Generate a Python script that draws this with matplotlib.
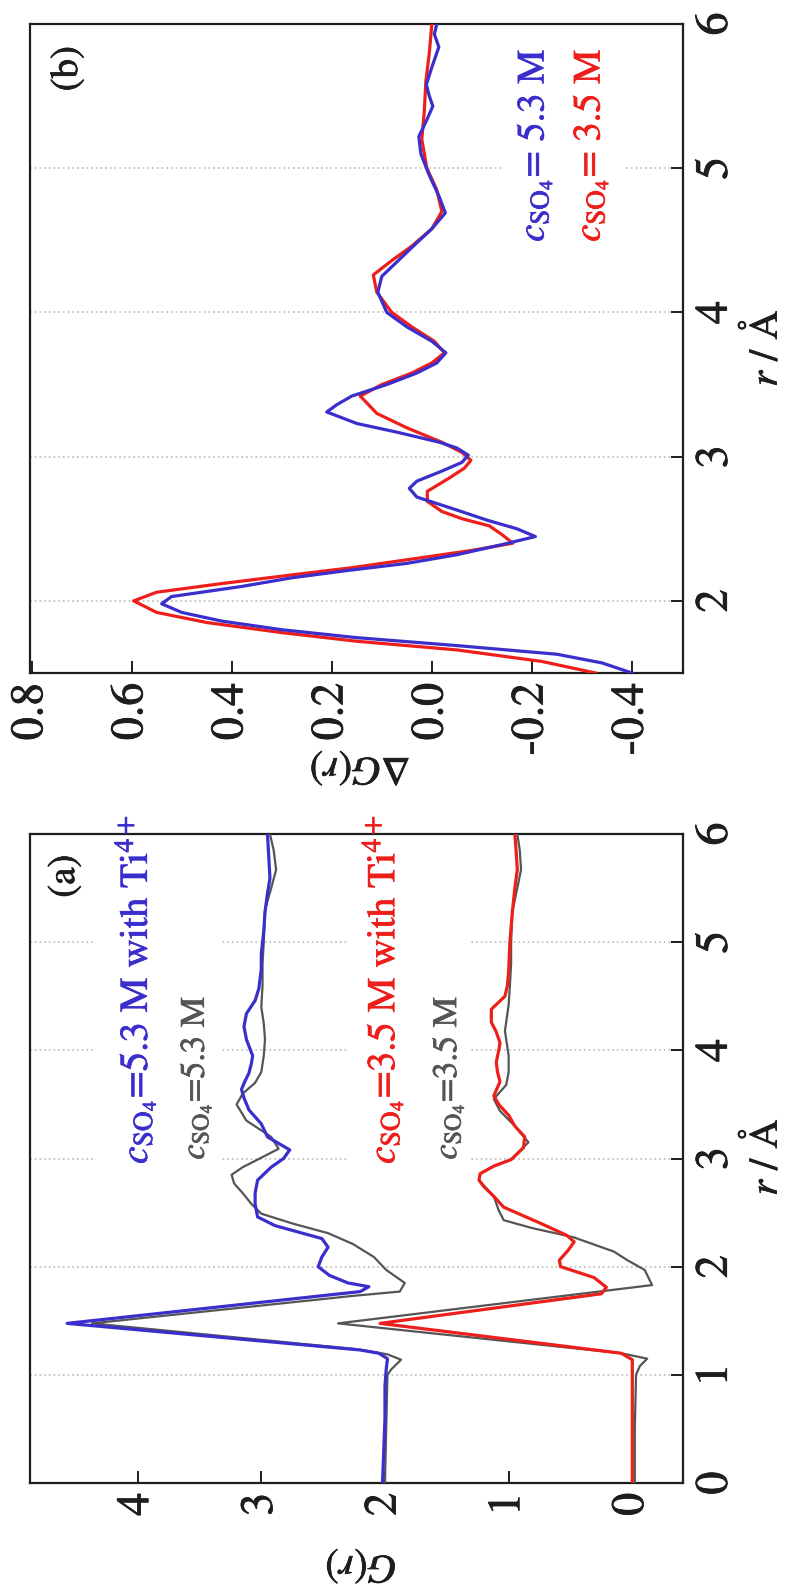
import matplotlib
matplotlib.use("Agg")
import matplotlib.pyplot as plt
import matplotlib.patheffects as pe
from matplotlib.patches import Rectangle

plt.rcParams["font.family"] = ["STIXGeneral", "DejaVu Serif"]
plt.rcParams["mathtext.fontset"] = "stix"
plt.rcParams["axes.unicode_minus"] = False

# ---- panel (a): G(r), curves with Ti offset by +2 ----
r_ti53 = [0.0, 0.3, 0.6, 0.9, 1.05, 1.15, 1.20, 1.23, 1.476, 1.77, 1.815, 1.85, 1.92, 2.0,
          2.09, 2.18, 2.26, 2.32, 2.38, 2.46, 2.58, 2.68, 2.80, 2.92, 3.0, 3.08, 3.2, 3.32,
          3.45, 3.56, 3.64, 3.72, 3.79, 3.88, 3.95, 4.1, 4.22, 4.34, 4.46, 4.57, 4.75, 4.89,
          5.1, 5.28, 5.45, 5.59, 5.8, 6.0]
g_ti53 = [2.02, 2.01, 2.0, 2.0, 1.99, 1.98, 2.05, 2.2, 4.57, 2.2, 2.13, 2.30, 2.45, 2.54,
          2.51, 2.46, 2.51, 2.7, 2.89, 3.03, 3.05, 3.05, 3.03, 2.92, 2.82, 2.77, 2.95, 3.0,
          3.1, 3.14, 3.16, 3.13, 3.10, 3.08, 3.07, 3.12, 3.14, 3.12, 3.05, 3.02, 3.0, 3.0,
          2.98, 2.97, 2.95, 2.93, 2.94, 2.95]

r_53 = [0.0, 0.5, 1.0, 1.05, 1.14, 1.19, 1.24, 1.476, 1.73, 1.77, 1.85, 1.97, 2.09, 2.21,
        2.31, 2.40, 2.49, 2.58, 2.68, 2.77, 2.85, 2.92, 2.99, 3.09, 3.2, 3.35, 3.5, 3.6,
        3.7, 3.8, 3.95, 4.1, 4.25, 4.4, 4.6, 4.8, 5.0, 5.3, 5.5, 5.67, 5.85, 6.0]
g_53 = [2.0, 1.99, 1.98, 1.95, 1.87, 1.98, 2.25, 4.37, 2.26, 1.88, 1.84, 1.99, 2.09, 2.26,
        2.46, 2.75, 3.0, 3.08, 3.15, 3.22, 3.24, 3.15, 3.03, 2.86, 2.92, 3.12, 3.2, 3.15,
        3.05, 3.0, 2.98, 2.97, 2.98, 3.0, 2.99, 2.99, 2.98, 2.97, 2.92, 2.88, 2.9, 2.93]

r_ti35 = [0.0, 0.5, 1.0, 1.14, 1.20, 1.476, 1.75, 1.81, 1.90, 2.0, 2.06, 2.15, 2.23, 2.29,
          2.40, 2.55, 2.65, 2.74, 2.80, 2.86, 2.93, 2.99, 3.1, 3.2, 3.30, 3.40, 3.5, 3.58,
          3.71, 3.8, 3.89, 4.0, 4.07, 4.17, 4.26, 4.38, 4.5, 4.6, 4.73, 5.0, 5.28, 5.5,
          5.67, 5.85, 6.0]
g_ti35 = [0.0, 0.0, 0.0, 0.0, 0.09, 2.04, 0.25, 0.21, 0.31, 0.58, 0.59, 0.52, 0.47, 0.53,
          0.74, 1.04, 1.12, 1.20, 1.24, 1.23, 1.12, 0.98, 0.88, 0.87, 0.95, 1.0, 1.08, 1.12,
          1.07, 1.09, 1.10, 1.08, 1.07, 1.1, 1.14, 1.14, 1.03, 1.01, 1.0, 0.99, 0.97, 0.95,
          0.93, 0.94, 0.95]

r_35 = [0.0, 0.5, 1.0, 1.08, 1.15, 1.20, 1.476, 1.83, 1.97, 2.06, 2.14, 2.27, 2.36, 2.43,
        2.52, 2.65, 2.80, 2.86, 2.93, 2.99, 3.15, 3.3, 3.44, 3.55, 3.68, 3.8, 3.95, 4.18,
        4.42, 4.6, 4.8, 5.0, 5.28, 5.5, 5.67, 5.85, 6.0]
g_35 = [-0.02, -0.02, -0.03, -0.06, -0.12, 0.09, 2.38, -0.16, -0.10, 0.04, 0.15, 0.47,
        0.82, 1.04, 1.08, 1.12, 1.24, 1.23, 1.12, 0.98, 0.84, 0.95, 1.07, 1.12, 1.02, 1.0,
        1.0, 1.03, 1.0, 0.99, 0.98, 0.98, 0.97, 0.93, 0.90, 0.91, 0.93]

# ---- panel (b): difference curves dG(r) ----
r_d53 = [1.50, 1.57, 1.63, 1.69, 1.745, 1.80, 1.86, 1.92, 1.98, 2.03, 2.10, 2.16, 2.21,
         2.26, 2.32, 2.39, 2.446, 2.50, 2.56, 2.63, 2.72, 2.78, 2.83, 2.90, 2.96, 3.01,
         3.06, 3.10, 3.17, 3.23, 3.31, 3.36, 3.42, 3.50, 3.58, 3.65, 3.72, 3.80, 3.90,
         4.0, 4.14, 4.25, 4.35, 4.46, 4.58, 4.69, 4.80, 4.95, 5.10, 5.22, 5.32, 5.43,
         5.50, 5.58, 5.70, 5.84, 5.93, 6.0]
d_d53 = [-0.40, -0.34, -0.25, -0.05, 0.15, 0.30, 0.42, 0.50, 0.54, 0.52, 0.38, 0.28, 0.17,
         0.05, -0.05, -0.14, -0.207, -0.17, -0.11, -0.05, 0.03, 0.045, 0.03, -0.02, -0.06,
         -0.073, -0.05, -0.015, 0.07, 0.15, 0.21, 0.19, 0.16, 0.09, 0.03, -0.01, -0.028,
         0.0, 0.05, 0.09, 0.108, 0.10, 0.07, 0.037, 0.0, -0.027, -0.015, 0.005, 0.022,
         0.026, 0.012, -0.002, 0.005, 0.011, 0.0, -0.014, -0.005, -0.01]

r_d35 = [1.50, 1.58, 1.66, 1.72, 1.78, 1.85, 1.92, 2.0, 2.06, 2.12, 2.18, 2.23, 2.29, 2.35,
         2.40, 2.46, 2.52, 2.57, 2.62, 2.69, 2.76, 2.85, 2.92, 2.975, 3.03, 3.10, 3.20,
         3.30, 3.42, 3.50, 3.58, 3.65, 3.72, 3.80, 3.90, 4.0, 4.14, 4.26, 4.36, 4.46,
         4.58, 4.70, 4.85, 5.0, 5.2, 5.4, 5.6, 5.8, 6.0]
d_d35 = [-0.327, -0.22, -0.05, 0.15, 0.30, 0.45, 0.55, 0.596, 0.55, 0.42, 0.28, 0.16,
         0.04, -0.08, -0.162, -0.14, -0.115, -0.06, -0.02, 0.009, 0.009, -0.034, -0.065,
         -0.078, -0.06, -0.02, 0.05, 0.11, 0.143, 0.10, 0.04, 0.0, -0.025, -0.005, 0.04,
         0.08, 0.11, 0.117, 0.08, 0.04, 0.0, -0.02, -0.01, 0.01, 0.02, 0.015, 0.012,
         0.005, 0.0]

r_ticks_a = [0, 1, 2, 3, 4, 5, 6]
r_ticks_b = [2, 3, 4, 5, 6]
g_ticks = [0, 1, 2, 3, 4]
dg_ticks = [0.8, 0.6, 0.4, 0.2, 0.0, -0.2, -0.4]

BLUE = "#3a2fcc"
RED = "#ee1f1b"
GRAY = "#555555"
INK = "#1e1e1e"
TICK_FS = 33


def heavy(color, w=0.7):
    return [pe.withStroke(linewidth=w, foreground=color)]


fig = plt.figure(figsize=(7.9, 15.88), dpi=100)
ax_a = fig.add_axes([0.038, 0.0661, 0.8266, 0.4087])
ax_b = fig.add_axes([0.038, 0.5762, 0.8266, 0.4087])


def frame(ax, rticks, xticks, xlabels):
    ax.yaxis.tick_right()
    ax.set_yticks(rticks, [str(t) for t in rticks], rotation=90, va="center")
    ax.set_xticks(xticks, xlabels, rotation=90, ha="center", va="top")
    ax.tick_params(direction="in", length=8.6, width=1.4, colors=INK,
                   labelsize=TICK_FS, top=False, left=False)
    ax.tick_params(axis="x", pad=7)
    ax.tick_params(axis="y", pad=9)
    for lab in ax.get_xticklabels() + ax.get_yticklabels():
        lab.set_path_effects(heavy(INK, 0.6))
    for sp in ax.spines.values():
        sp.set_linewidth(1.6)
        sp.set_color(INK)


def grid(ax, levels):
    for lv in levels:
        ax.axhline(lv, color="#c4c4c4", lw=1.3, ls=(0, (1, 1.6)), zorder=1)


def label(ax, x, y, s, color, fs, **kw):
    ax.text(x, y, s, color=color, fontsize=fs, rotation=90, zorder=5,
            path_effects=heavy(color, 0.5), **kw)


# panel (a)
ax_a.set_xlim(4.87, -0.41)
ax_a.set_ylim(0, 6)
frame(ax_a, r_ticks_a, g_ticks, [str(t) for t in g_ticks])
grid(ax_a, [1, 2, 3, 4, 5])
for g0, g1 in [(4.34, 3.33), (2.31, 1.32)]:
    ax_a.add_patch(Rectangle((g1, 2.88), g0 - g1, 3.07, facecolor="white",
                             edgecolor="none", zorder=2))
ax_a.plot(g_53, r_53, color=GRAY, lw=1.6, zorder=3)
ax_a.plot(g_35, r_35, color=GRAY, lw=1.6, zorder=3)
ax_a.plot(g_ti53, r_ti53, color=BLUE, lw=2.3, zorder=4)
ax_a.plot(g_ti35, r_ti35, color=RED, lw=2.3, zorder=4)

label(ax_a, 4.02, 2.95, r"$c_{\mathrm{SO_4}}$=5.3 M with Ti$^{4+}$", BLUE, 28.3,
      ha="center", va="bottom")
label(ax_a, 3.53, 2.99, r"$c_{\mathrm{SO_4}}$=5.3 M", GRAY, 24.7,
      ha="center", va="bottom")
label(ax_a, 2.02, 2.95, r"$c_{\mathrm{SO_4}}$=3.5 M with Ti$^{4+}$", RED, 28.3,
      ha="center", va="bottom")
label(ax_a, 1.49, 2.99, r"$c_{\mathrm{SO_4}}$=3.5 M", GRAY, 24.7,
      ha="center", va="bottom")
label(ax_a, 4.59, 5.61, "(a)", INK, 28, ha="center", va="center")

# panel (b)
ax_b.set_xlim(0.803, -0.502)
ax_b.set_ylim(1.5, 6)
frame(ax_b, r_ticks_b, dg_ticks, [f"{t:.1f}" for t in dg_ticks])
grid(ax_b, [2, 3, 4, 5])
ax_b.add_patch(Rectangle((-0.387, 4.4), 0.242, 1.5, facecolor="white",
                         edgecolor="none", zorder=2))
ax_b.plot(d_d35, r_d35, color=RED, lw=2.3, zorder=3)
ax_b.plot(d_d53, r_d53, color=BLUE, lw=2.3, zorder=4)
label(ax_b, -0.204, 4.49, r"$c_{\mathrm{SO_4}}$= 5.3 M", BLUE, 27.7,
      ha="center", va="bottom")
label(ax_b, -0.316, 4.49, r"$c_{\mathrm{SO_4}}$= 3.5 M", RED, 27.7,
      ha="center", va="bottom")
label(ax_b, 0.728, 5.69, "(b)", INK, 28, ha="center", va="center")

# axis titles
W, H = 790, 1588
fig.text(361 / W, 1 - 1566 / H, r"$G(r)$", fontsize=29, rotation=180,
         ha="center", va="center", color=INK, path_effects=heavy(INK, 0.5))
fig.text(360 / W, 1 - 768 / H, r"$\Delta G(r)$", fontsize=29, rotation=180,
         ha="center", va="center", color=INK, path_effects=heavy(INK, 0.5))
fig.text(786 / W, 1 - 1157 / H, r"$r$ / Å", fontsize=29, rotation=90,
         ha="right", va="center", color=INK, path_effects=heavy(INK, 0.5))
fig.text(786 / W, 1 - 348 / H, r"$r$ / Å", fontsize=29, rotation=90,
         ha="right", va="center", color=INK, path_effects=heavy(INK, 0.5))

fig.savefig("out.png", dpi=100, facecolor="white")
